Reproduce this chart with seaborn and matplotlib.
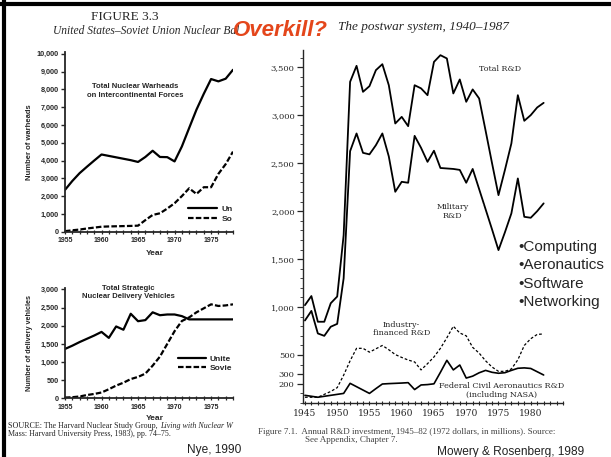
import numpy as np
import pandas as pd
import matplotlib
matplotlib.use('Agg')
import matplotlib.pyplot as plt
import seaborn as sns
from matplotlib.ticker import MultipleLocator
from matplotlib.lines import Line2D

sns.set_style('ticks')
plt.rcParams['font.family'] = ['Liberation Sans', 'DejaVu Sans']

# --- Nye 1990, figure 3.3 (scan is cropped at 1978)
nye_years = list(range(1955, 1979))
us_warheads = [2350, 2850, 3290, 3650, 4000, 4340, 4260, 4180, 4100, 4020, 3920, 4200,
               4550, 4200, 4190, 3950, 4790, 5830, 6860, 7750, 8580, 8450, 8600, 9100]
su_warheads = [30, 80, 120, 180, 230, 280, 295, 305, 315, 325, 340, 650,
               940, 1035, 1300, 1600, 2000, 2440, 2120, 2500, 2500, 3250, 3800, 4500]
us_vehicles = [1360, 1450, 1550, 1640, 1730, 1830, 1665, 1980, 1890, 2330, 2125, 2155,
               2370, 2290, 2310, 2310, 2265, 2175, 2175, 2175, 2175, 2175, 2175, 2175]
su_vehicles = [20, 30, 50, 90, 120, 160, 250, 350, 430, 530, 590, 680,
               900, 1150, 1500, 1850, 2130, 2230, 2370, 2480, 2590, 2545, 2560, 2590]
warhead_ticks = list(range(0, 10001, 1000))
vehicle_ticks = list(range(0, 3001, 500))

# --- Mowery & Rosenberg 1989, figure 7.1 (1972 dollars, millions)
rd_years = list(range(1945, 1983))
total_rd = [1020, 1115, 847, 847, 1040, 1110, 1750, 3348, 3515, 3244,
            3303, 3470, 3532, 3313, 2914, 2983, 2886, 3313, 3280, 3209,
            3556, 3626, 3592, 3227, 3373, 3140, 3269, 3175, 2840, 2500,
            2167, 2430, 2706, 3209, 2942, 3001, 3081, 3129]
military_rd = [860, 960, 725, 700, 795, 825, 1300, 2625, 2810, 2608,
               2592, 2688, 2810, 2570, 2202, 2306, 2296, 2785, 2660, 2514,
               2630, 2450, 2445, 2440, 2430, 2296, 2440, 2230, 2020, 1810,
               1594, 1780, 1977, 2341, 1941, 1931, 2000, 2081]
industry_rd = [60, 60, 60, 90, 120, 160, 290, 440, 570, 570,
               530, 565, 600, 555, 505, 475, 448, 428, 345, 410,
               480, 570, 680, 800, 730, 700, 580, 520, 440, 375,
               330, 330, 355, 450, 600, 670, 715, 720]
federal_aero_rd = [80, 70, 60, 70, 80, 90, 100, 205, 170, 135,
                   100, 150, 198, 202, 205, 208, 212, 140, 188, 192,
                   200, 320, 445, 345, 396, 260, 280, 315, 340, 320,
                   310, 316, 340, 362, 366, 360, 326, 292]
rd_ticks = [200, 300, 500, 1000, 1500, 2000, 2500, 3000, 3500]

nye = pd.DataFrame({'year': nye_years, 'us_w': us_warheads, 'su_w': su_warheads,
                    'us_v': us_vehicles, 'su_v': su_vehicles})
rd = pd.DataFrame({'year': rd_years, 'total': total_rd, 'military': military_rd,
                   'industry': industry_rd, 'federal': federal_aero_rd})

W, H = 611, 457
fig = plt.figure(figsize=(W / 100, H / 100), dpi=100)


def box(l, t, r, b):
    return [l / W, 1 - b / H, (r - l) / W, (b - t) / H]


def ftext(x, y, s, **kw):
    return fig.text(x / W, 1 - y / H, s, **kw)


SERIF = ['DejaVu Serif']
TIMES = ['Liberation Serif']
dash = (0, (2.5, 1))

# ---------- left: warheads
ax_w = fig.add_axes(box(65, 52, 233, 231.7))
sns.lineplot(data=nye, x='year', y='us_w', ax=ax_w, color='black', lw=1.6)
sns.lineplot(data=nye, x='year', y='su_w', ax=ax_w, color='black', lw=1.6, linestyle=dash)

# ---------- left: delivery vehicles
ax_v = fig.add_axes(box(65, 288, 233, 398.3))
sns.lineplot(data=nye, x='year', y='us_v', ax=ax_v, color='black', lw=1.6)
sns.lineplot(data=nye, x='year', y='su_v', ax=ax_v, color='black', lw=1.6, linestyle=dash)

for ax, ticks, top in [(ax_w, warhead_ticks, 10100), (ax_v, vehicle_ticks, 3040)]:
    ax.set_xlim(1955, 1978)
    ax.set_ylim(0, top)
    ax.set_yticks(ticks, labels=[f'{t:,}' for t in ticks], fontsize=5.2, fontweight='bold')
    ax.set_xticks(range(1955, 1976, 5), labels=[str(y) for y in range(1955, 1976, 5)],
                  fontsize=5, fontweight='bold')
    ax.xaxis.set_minor_locator(MultipleLocator(1))
    ax.tick_params(axis='y', direction='out', length=3, width=1, pad=1.5)
    ax.tick_params(axis='x', which='both', direction='inout', length=3.5, width=0.9, pad=2)
    for s in ['top', 'right']:
        ax.spines[s].set_visible(False)
    for s in ['left', 'bottom']:
        ax.spines[s].set_linewidth(1.3)
    ax.set_xlabel('Year', fontsize=6, fontweight='bold')
    ax.set_facecolor('none')

ax_w.set_ylabel('Number of warheads', fontsize=5.5, fontweight='bold')
ax_w.yaxis.set_label_coords(-0.19, 0.5)
ax_w.xaxis.set_label_coords(0.536, -0.1)
ax_v.set_ylabel('Number of delivery vehicles', fontsize=5.2, fontweight='bold')
ax_v.yaxis.set_label_coords(-0.19, 0.5)
ax_v.xaxis.set_label_coords(0.536, -0.15)

ax_w.text(0.417, 0.783, 'Total Nuclear Warheads\non Intercontinental Forces', transform=ax_w.transAxes,
          ha='center', va='center', fontsize=5.5, fontweight='bold', linespacing=1.3)
ax_v.text(0.375, 0.96, 'Total Strategic\nNuclear Delivery Vehicles', transform=ax_v.transAxes,
          ha='center', va='center', fontsize=5.5, fontweight='bold', linespacing=1.3)

ax_w.legend(handles=ax_w.lines[:2], labels=['Un', 'So'], loc='center left',
            bbox_to_anchor=((188 - 65) / 168, 0.099), frameon=False, borderpad=0, borderaxespad=0,
            handlelength=3.5, handletextpad=0.5, labelspacing=0.25,
            prop={'size': 6, 'weight': 'bold'})
ax_v.legend(handles=ax_v.lines[:2], labels=['Unite', 'Sovie'], loc='center left',
            bbox_to_anchor=((178 - 65) / 168, 0.317), frameon=False, borderpad=0, borderaxespad=0,
            handlelength=3.3, handletextpad=0.5, labelspacing=0.15,
            prop={'size': 6, 'weight': 'bold'})

# ---------- right: R&D investment
ax_r = fig.add_axes(box(303, 50, 563, 403))
ax_r.set_zorder(2)
sns.lineplot(data=rd, x='year', y='total', ax=ax_r, color='black', lw=1.3)
sns.lineplot(data=rd, x='year', y='military', ax=ax_r, color='black', lw=1.3)
sns.lineplot(data=rd, x='year', y='industry', ax=ax_r, color='black', lw=0.9,
             linestyle=(0, (2.2, 1.6)))
sns.lineplot(data=rd, x='year', y='federal', ax=ax_r, color='black', lw=1.2)
ax_r.set_xlim(1944.7, 1985)
ax_r.set_ylim(0, 3680)
ax_r.set_yticks(rd_ticks, labels=[f'{t:,}' for t in rd_ticks], fontsize=6, fontfamily=SERIF)
ax_r.yaxis.set_minor_locator(MultipleLocator(100))
ax_r.set_xticks(range(1945, 1981, 5), labels=[str(y) for y in range(1945, 1981, 5)],
                fontsize=6.6, fontfamily=SERIF)
ax_r.xaxis.set_minor_locator(MultipleLocator(1))
ax_r.tick_params(axis='y', which='major', direction='out', length=4, width=0.9, pad=2)
ax_r.tick_params(axis='y', which='minor', direction='out', length=2, width=0.6)
ax_r.tick_params(axis='x', which='both', direction='inout', length=3, width=0.8, pad=3)
for s in ['top', 'right']:
    ax_r.spines[s].set_visible(False)
for s in ['left', 'bottom']:
    ax_r.spines[s].set_linewidth(1.0)
ax_r.set_xlabel('')
ax_r.set_ylabel('')
ax_r.set_facecolor('none')

ann = dict(fontsize=5.8, fontfamily=SERIF, ha='center', va='center', linespacing=1.15)
ax_r.text(1975.2, 3480, 'Total R&D', **ann)
ax_r.annotate('', xy=(1972.1, 3190), xytext=(1974.7, 3418),
              arrowprops=dict(arrowstyle='-', lw=0.7, connectionstyle='arc3,rad=-0.5'))
ax_r.text(1967.9, 1993, 'Military\nR&D', **ann)
ax_r.annotate('', xy=(1972.9, 2087), xytext=(1970.6, 2053),
              arrowprops=dict(arrowstyle='-', lw=0.7, connectionstyle='arc3,rad=0.3'))
ax_r.text(1960.0, 771, 'Industry-\nfinanced R&D', **ann)
ax_r.annotate('', xy=(1958.8, 524), xytext=(1959.4, 674),
              arrowprops=dict(arrowstyle='-', lw=0.7, connectionstyle='arc3,rad=0.2'))
ax_r.text(1975.5, 130, 'Federal Civil Aeronautics R&D\n(including NASA)', **ann)
ax_r.annotate('', xy=(1979.6, 350), xytext=(1979.6, 245),
              arrowprops=dict(arrowstyle='->', lw=0.6, mutation_scale=5))

# ---------- headings and captions
ftext(125, 17, 'FIGURE 3.3', fontsize=9.5, fontfamily=TIMES, ha='center', va='center')
ftext(53, 31, 'United States\u2013Soviet Union Nuclear Bal', fontsize=8.3, fontfamily=TIMES,
      style='italic', ha='left', va='center')
ftext(233, 30, 'Overkill?', fontsize=16, fontweight='bold', style='italic', color='#e4461b',
      ha='left', va='center')
ftext(338, 27, 'The postwar system, 1940\u20131987', fontsize=9.5, fontfamily=TIMES,
      style='italic', ha='left', va='center')

src = ftext(8, 426, 'SOURCE: The Harvard Nuclear Study Group, ', fontsize=5.8, fontfamily=TIMES,
            ha='left', va='center')
fig.add_artist(plt.Annotation('Living with Nuclear W', xy=(1, 0), xycoords=src, va='bottom',
                              ha='left', fontsize=5.8, fontfamily=TIMES, style='italic'))
ftext(8, 434, 'Mass: Harvard University Press, 1983), pp. 74\u201375.', fontsize=5.8,
      fontfamily=TIMES, ha='left', va='center')
ftext(187, 450, 'Nye, 1990', fontsize=8.6, color='#222222', ha='left', va='center')

ftext(258, 431.7, 'Figure 7.1.  Annual R&D investment, 1945\u201382 (1972 dollars, in millions). Source:',
      fontsize=6.5, fontfamily=TIMES, color='#444444', ha='left', va='center')
ftext(305, 440, 'See Appendix, Chapter 7.', fontsize=6.5, fontfamily=TIMES, color='#444444',
      ha='left', va='center')
ftext(437, 451.7, 'Mowery & Rosenberg, 1989', fontsize=8.6, color='#222222', ha='left', va='center')

ftext(518, 240, '\u2022Computing\n\u2022Aeronautics\n\u2022Software\n\u2022Networking',
      fontsize=11, ha='left', va='top', linespacing=1.4)

# frame edges of the slide
fig.add_artist(Line2D([0, 1], [1 - 4 / H, 1 - 4 / H], color='black', lw=3, transform=fig.transFigure))
fig.add_artist(Line2D([4 / W, 4 / W], [0, 1], color='black', lw=3, transform=fig.transFigure))

fig.savefig('out.png', dpi=100)
